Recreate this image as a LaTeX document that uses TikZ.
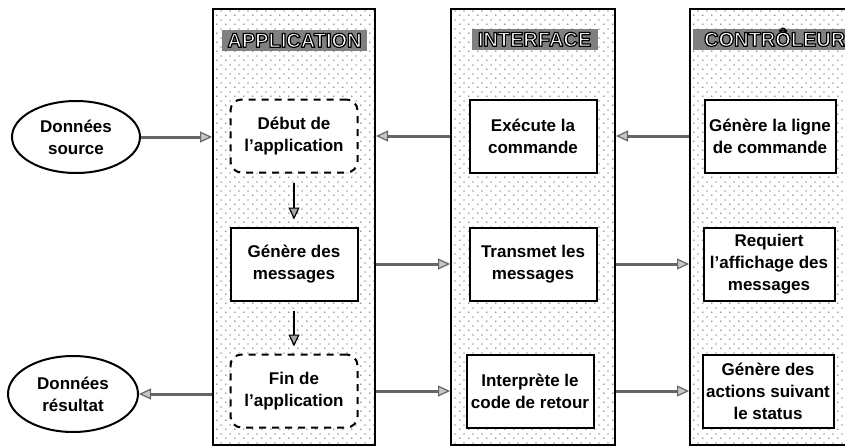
\documentclass[tikz,border=0pt]{standalone}
\usepackage{fontspec}
\setmainfont{Liberation Sans}
\usetikzlibrary{arrows.meta,patterns,shapes.geometric}
\pgfdeclarepatternformonly{sparsedots}{\pgfqpoint{0pt}{0pt}}{\pgfqpoint{9pt}{9pt}}{\pgfqpoint{9pt}{9pt}}{%
  \pgfpathcircle{\pgfqpoint{1pt}{1pt}}{0.75pt}%
  \pgfpathcircle{\pgfqpoint{5.5pt}{5.5pt}}{0.75pt}%
  \pgfusepath{fill}}
\newcommand{\outlinedtext}[1]{\special{pdf:code q 0 G 2 Tr 1.2 w 1 j}#1\special{pdf:code Q}}
\tikzset{
  col/.style={draw, line width=2pt, fill=white,
    postaction={pattern=sparsedots, pattern color=black!80},
    minimum width=#1, minimum height=436pt, inner sep=0pt},
  titlebox/.style={fill=black!50, minimum height=21pt, inner sep=0pt,
    text height=14.5pt, text depth=0pt, text=white,
    font=\fontsize{20}{20}\selectfont\bfseries},
  inbox/.style={draw, line width=2pt, fill=white, minimum width=127pt,
    minimum height=73pt, inner sep=2pt, align=center,
    font=\fontsize{17}{22}\selectfont\bfseries},
  dashbox/.style={inbox, dash pattern=on 7pt off 6pt, rounded corners=11pt},
  databubble/.style={draw, line width=2pt, ellipse, minimum width=128pt,
    minimum height=72pt, inner sep=0pt, align=center,
    font=\fontsize{17}{22}\selectfont\bfseries},
  harrow/.style={draw=black!60, line width=3pt,
    -{Triangle[length=12pt,width=11pt,fill=black!22,line width=1.2pt]}},
  varrow/.style={draw=black, line width=2.6pt,
    -{Triangle[length=12pt,width=11pt,fill=black!35,line width=1.2pt]}},
}
\begin{document}
\begin{tikzpicture}[x=1pt,y=-1pt]
\useasboundingbox (0,0) rectangle (845,447);
% columns
\node[col=162pt] (app) at (294,227) {};
\node[col=164pt] (iface) at (533,227) {};
\node[col=170pt] (ctrl) at (775,227) {};
% titles
\node[titlebox, minimum width=145pt] (tapp) at (294.5,40) {\outlinedtext{APPLICATION}};
\node[titlebox, minimum width=126pt] (tif) at (534.5,39) {\outlinedtext{INTERFACE}};
\node[titlebox, minimum width=160pt, anchor=west] (tctrl) at (693,39) {\hspace{3pt}\outlinedtext{CONTRÔLEUR}\hfill};
% application boxes
\node[dashbox] (deb) at (294,136) {Début de\\l'application};
\node[inbox] (gen) at (294,264) {Génère des\\messages};
\node[dashbox] (fin) at (294,391) {Fin de\\l'application};
% interface boxes
\node[inbox] (exe) at (533,136) {Exécute la\\commande};
\node[inbox] (tra) at (533,264) {Transmet les\\messages};
\node[inbox] (int) at (530,391) {Interprète le\\code de retour};
% controller boxes
\node[inbox, minimum width=131pt] (lig) at (770,136) {Génère la ligne\\de commande};
\node[inbox, minimum width=131pt] (req) at (769,264) {Requiert\\l'affichage des\\messages};
\node[inbox, minimum width=131pt] (act) at (768,391) {Génère des\\actions suivant\\le status};
% data ellipses
\node[databubble] (src) at (76,137) {Données\\source};
\node[databubble, minimum width=130pt, minimum height=76pt] (res) at (73,394) {Données\\résultat};
% arrows
\draw[harrow] (src.east) -- (app.west |- src.east);
\draw[harrow] (iface.west |- exe) -- (app.east |- exe);
\draw[harrow] (ctrl.west |- lig) -- (iface.east |- lig);
\draw[harrow] (app.east |- gen) -- (iface.west |- gen);
\draw[harrow] (iface.east |- tra) -- (ctrl.west |- tra);
\draw[harrow] (app.east |- fin) -- (iface.west |- fin);
\draw[harrow] (iface.east |- int) -- (ctrl.west |- int);
\draw[harrow] (app.west |- res.east) -- (res.east);
\draw[varrow, shorten <=9pt, shorten >=7pt] (deb.south) -- (gen.north);
\draw[varrow, shorten <=9pt, shorten >=7pt] (gen.south) -- (fin.north);
\end{tikzpicture}
\end{document}
